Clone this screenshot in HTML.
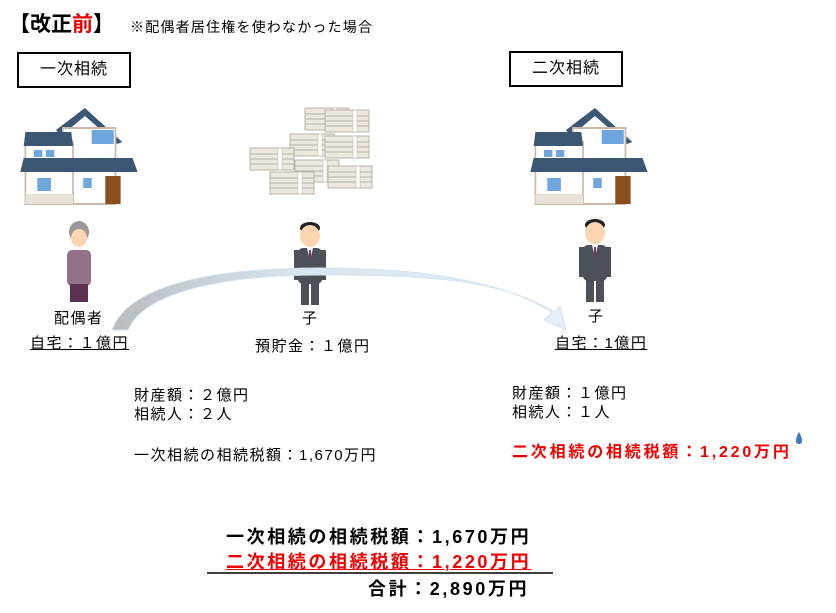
<!DOCTYPE html>
<html><head><meta charset="utf-8"><style>
body{margin:0;width:836px;height:613px;background:#fff;position:relative;overflow:hidden;font-family:"Liberation Sans","Noto Sans CJK JP",sans-serif;color:#000}
.t{position:absolute;white-space:nowrap;line-height:1}
.box{position:absolute;border:2px solid #000;box-sizing:border-box;font-size:16px;text-align:center;letter-spacing:1px}
.u{text-decoration:underline}
.b{font-weight:bold}
.r{color:#e00}
.s{letter-spacing:1.5px}
.L{letter-spacing:2.6px}
svg{position:absolute;left:0;top:0}
</style></head><body>
<svg width="836" height="613">
<defs>
<linearGradient id="ag" x1="0" x2="1"><stop offset="0" stop-color="#b8bcc0"/><stop offset="0.4" stop-color="#d8e4ee"/><stop offset="1" stop-color="#e6eff8"/></linearGradient>
<g id="house">
<polygon points="40,30 74,8 118,42 112,44 74,16 46,36" fill="#3b5774"/>
<rect x="48" y="28" width="62" height="76" fill="#fff" stroke="#c9b8a8" stroke-width="2"/>
<rect x="4" y="42" width="56" height="62" fill="#fff" stroke="#c9b8a8" stroke-width="2"/>
<polygon points="4,32 58,32 60,46 2,46" fill="#3b5774"/>
<polygon points="2,58 130,58 136,72 -2,72" fill="#3b5774"/>
<rect x="82" y="30" width="26" height="14" fill="#6fa6dd"/>
<rect x="14" y="50" width="10" height="7" fill="#6fa6dd"/><rect x="28" y="50" width="10" height="7" fill="#6fa6dd"/>
<rect x="18" y="78" width="16" height="13" fill="#6fa6dd"/>
<rect x="72" y="78" width="10" height="10" fill="#6fa6dd"/>
<rect x="98" y="76" width="18" height="28" fill="#8a4e1c"/>
<rect x="4" y="94" width="56" height="10" fill="#e8e2da"/>
</g>
<g id="man">
<ellipse cx="0" cy="-4" rx="10" ry="6" fill="#222"/>
<ellipse cx="0" cy="4" rx="10" ry="11" fill="#fcd5b0"/>
<rect x="-12" y="16" width="24" height="36" rx="5" fill="#4c5058"/>
<polygon points="-3,16 3,16 0,28" fill="#fff"/><rect x="-1" y="18" width="2" height="10" fill="#7a3a5a"/>
<rect x="-9" y="50" width="8" height="23" fill="#4c5058"/><rect x="1" y="50" width="8" height="23" fill="#4c5058"/>
<rect x="-16" y="18" width="5" height="30" fill="#4c5058"/><rect x="11" y="18" width="5" height="30" fill="#4c5058"/>
</g>
<g id="bill">
<rect x="0" y="0" width="44" height="22" fill="#ece8df" stroke="#b8b2a6"/>
<line x1="0" y1="6" x2="44" y2="6" stroke="#b8b2a6"/><line x1="0" y1="11" x2="44" y2="11" stroke="#b8b2a6"/><line x1="0" y1="16" x2="44" y2="16" stroke="#b8b2a6"/>
<rect x="28" y="0" width="4" height="22" fill="#fff" stroke="#b8b2a6" stroke-width="0.5"/>
</g>
</defs>
<g transform="translate(22,100) scale(0.85,1)"><use href="#house"/></g>
<g transform="translate(532,100) scale(0.85,1)"><use href="#house"/></g>
<use href="#bill" x="305" y="108"/><use href="#bill" x="325" y="110"/>
<use href="#bill" x="290" y="134"/><use href="#bill" x="325" y="136"/>
<use href="#bill" x="250" y="148"/><use href="#bill" x="295" y="160"/><use href="#bill" x="328" y="166"/>
<use href="#bill" x="270" y="172"/>
<g transform="translate(79,232)">
<ellipse cx="0" cy="0" rx="10" ry="11" fill="#999"/>
<ellipse cx="0" cy="6" rx="8" ry="9" fill="#fcd5b0"/>
<rect x="-12" y="18" width="24" height="36" rx="5" fill="#94708a"/>
<rect x="-9" y="52" width="18" height="18" fill="#5c3050"/>
</g>
<use href="#man" x="310" y="232"/>
<use href="#man" x="595" y="229"/>
<path d="M112,330 C130,280 230,268 320,268 C420,268 500,280 552,312 L544,320 L566,330 L560,306 L554,312 C500,278 420,275 320,275 C230,275 145,290 128,330 Z" fill="url(#ag)" stroke="#d6e2ee" stroke-width="1"/>
<path d="M799,432 C795,439 795,444 799,444 C803,444 803,439 799,432 Z" fill="#3a78c0"/>
<line x1="207" y1="573" x2="553" y2="573" stroke="#000" stroke-width="1.5"/>
</svg>
<div class="t b" style="left:9px;top:14px;font-size:21px">【改正<span class="r">前</span>】</div>
<div class="t" style="left:130px;top:20px;font-size:14px;letter-spacing:1.2px">※配偶者居住権を使わなかった場合</div>
<div class="box" style="left:17px;top:52px;width:114px;height:36px;line-height:32px">一次相続</div>
<div class="box" style="left:509px;top:51px;width:114px;height:36px;line-height:32px">二次相続</div>
<div class="t s" style="left:54px;top:311px;font-size:15px">配偶者</div>
<div class="t u s" style="left:30px;top:336px;font-size:15px">自宅：１億円</div>
<div class="t" style="left:302px;top:311px;font-size:15px">子</div>
<div class="t s" style="left:255px;top:339px;font-size:15px">預貯金：１億円</div>
<div class="t" style="left:588px;top:309px;font-size:15px">子</div>
<div class="t u s" style="left:555px;top:336px;font-size:15px">自宅：1億円</div>
<div class="t s" style="left:134px;top:388px;font-size:15px">財産額：２億円</div>
<div class="t s" style="left:134px;top:407px;font-size:15px">相続人：２人</div>
<div class="t s" style="left:134px;top:448px;font-size:15px">一次相続の相続税額：1,670万円</div>
<div class="t s" style="left:512px;top:386px;font-size:15px">財産額：１億円</div>
<div class="t s" style="left:512px;top:405px;font-size:15px">相続人：１人</div>
<div class="t b r" style="left:512px;top:445px;font-size:16px;letter-spacing:2.8px">二次相続の相続税額：1,220万円</div>
<div class="t b L" style="left:226px;top:528px;font-size:18px">一次相続の相続税額：1,670万円</div>
<div class="t b r u L" style="left:226px;top:553px;font-size:18px">二次相続の相続税額：1,220万円</div>
<div class="t b L" style="left:368px;top:580px;font-size:18px">合計：2,890万円</div>
</body></html>
